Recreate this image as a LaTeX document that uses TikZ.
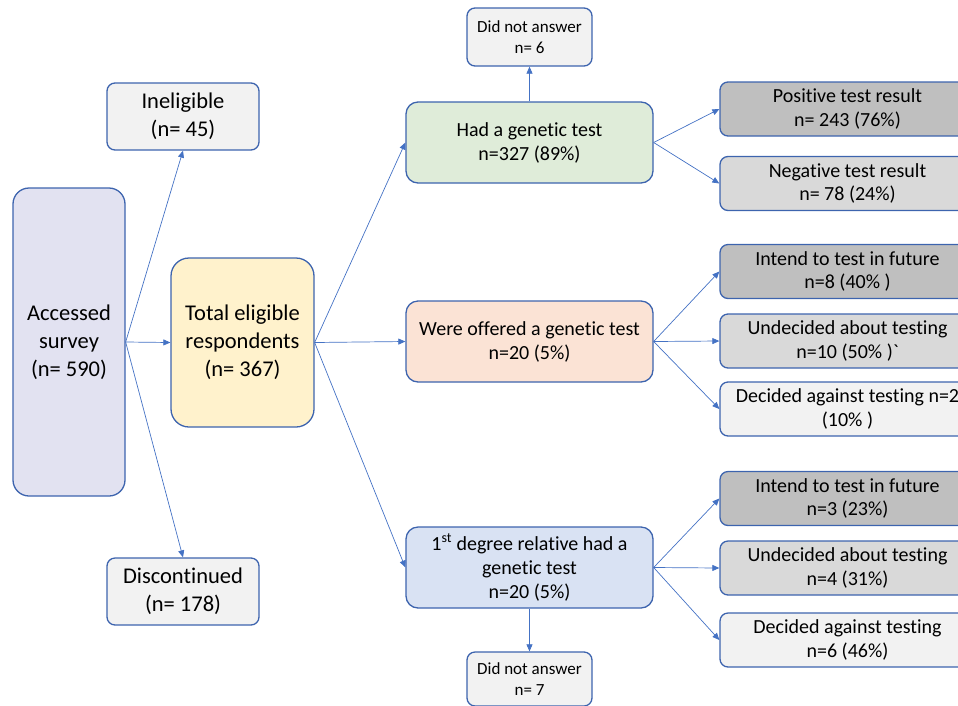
\documentclass[tikz,border=0pt]{standalone}
\usepackage{fontspec}
\setmainfont{Carlito}[Ligatures=CommonOff]
\usetikzlibrary{arrows.meta}
\definecolor{bord}{HTML}{3D64AE}
\definecolor{arr}{HTML}{4472C4}
\definecolor{cLav}{HTML}{E2E2F1}
\definecolor{cLight}{HTML}{F2F2F2}
\definecolor{cYel}{HTML}{FFF2CC}
\definecolor{cGreen}{HTML}{DFECD9}
\definecolor{cPeach}{HTML}{FBE3D5}
\definecolor{cBlue}{HTML}{D9E2F3}
\definecolor{cDark}{HTML}{BFBFBF}
\definecolor{cMid}{HTML}{D9D9D9}
\tikzset{
  box/.style={draw=bord, line width=1.3pt, rounded corners=8pt, inner sep=0pt, align=center, text=black},
  big/.style={box, font=\fontsize{22.5}{28}\selectfont},
  mid/.style={box, font=\fontsize{20}{24}\selectfont, minimum width=247pt, minimum height=81pt, rounded corners=12pt},
  sml/.style={box, font=\fontsize{17}{21}\selectfont, minimum width=125pt},
  rbox/.style={box, font=\fontsize{20}{23.5}\selectfont, minimum width=255pt, minimum height=54pt},
  conn/.style={draw=arr, line width=0.7pt, -{Triangle[length=7pt,width=6pt]}},
}
\begin{document}
\begin{tikzpicture}[x=1pt,y=-1pt]
\useasboundingbox (0,0) rectangle (958,705);
\clip (0,0) rectangle (958,705);
% left column
\node[big, fill=cLav, minimum width=112pt, minimum height=308pt, rounded corners=16pt] (acc) at (69,342) {Accessed\\survey\\(n= 590)};
\node[big, fill=cLight, minimum width=152pt, minimum height=67pt] (inel) at (183,116.5) {Ineligible\\(n= 45)};
\node[big, fill=cLight, minimum width=152pt, minimum height=67pt] (disc) at (183,591.5) {Discontinued\\(n= 178)};
\node[big, fill=cYel, minimum width=143pt, minimum height=169pt, rounded corners=18pt] (tot) at (242.5,342.5) {Total eligible\\respondents\\(n= 367)};
% middle column
\node[mid, fill=cGreen] (had) at (529.5,142.5) {Had a genetic test\\n=327 (89\%)};
\node[mid, fill=cPeach] (off) at (529.5,341.5) {Were offered a genetic test\\n=20 (5\%)};
\node[mid, fill=cBlue] (rel) at (529.5,567.5) {1\textsuperscript{st} degree relative had a\\genetic test\\n=20 (5\%)};
\node[sml, fill=cLight, minimum height=58pt] (dna1) at (529.5,37) {Did not answer\\n= 6};
\node[sml, fill=cLight, minimum height=54pt] (dna2) at (529.5,679) {Did not answer\\n= 7};
% right column
\node[rbox, fill=cDark] (pos) at (847.5,109) {Positive test result\\n= 243 (76\%)};
\node[rbox, fill=cMid] (neg) at (847.5,183.5) {Negative test result\\n= 78 (24\%)};
\node[rbox, fill=cDark] (int1) at (847.5,271.5) {Intend to test in future\\n=8 (40\% )};
\node[rbox, fill=cMid] (und1) at (847.5,341) {Undecided about testing\\n=10 (50\% )\textasciigrave};
\node[rbox, fill=cLight] (dec1) at (847.5,409) {Decided against testing n=2\\(10\% )};
\node[rbox, fill=cDark] (int2) at (847.5,498.5) {Intend to test in future\\n=3 (23\%)};
\node[rbox, fill=cMid] (und2) at (847.5,568) {Undecided about testing\\n=4 (31\%)};
\node[rbox, fill=cLight] (dec2) at (847.5,640) {Decided against testing\\n=6 (46\%)};
% connectors
\coordinate (accR) at (acc.east);
\draw[conn] (accR) -- (inel.south);
\draw[conn] (accR) -- (tot.west);
\draw[conn] (accR) -- (disc.north);
\coordinate (totR) at (tot.east);
\draw[conn] (totR) -- (had.west);
\draw[conn] (totR) -- (off.west);
\draw[conn] (totR) -- (rel.west);
\draw[conn] (had.north) -- (dna1.south);
\draw[conn] (rel.south) -- (dna2.north);
\draw[conn] (had.east) -- (pos.west);
\draw[conn] (had.east) -- (neg.west);
\draw[conn] (off.east) -- (int1.west);
\draw[conn] (off.east) -- (und1.west);
\draw[conn] (off.east) -- (dec1.west);
\draw[conn] (rel.east) -- (int2.west);
\draw[conn] (rel.east) -- (und2.west);
\draw[conn] (rel.east) -- (dec2.west);
\end{tikzpicture}
\end{document}
